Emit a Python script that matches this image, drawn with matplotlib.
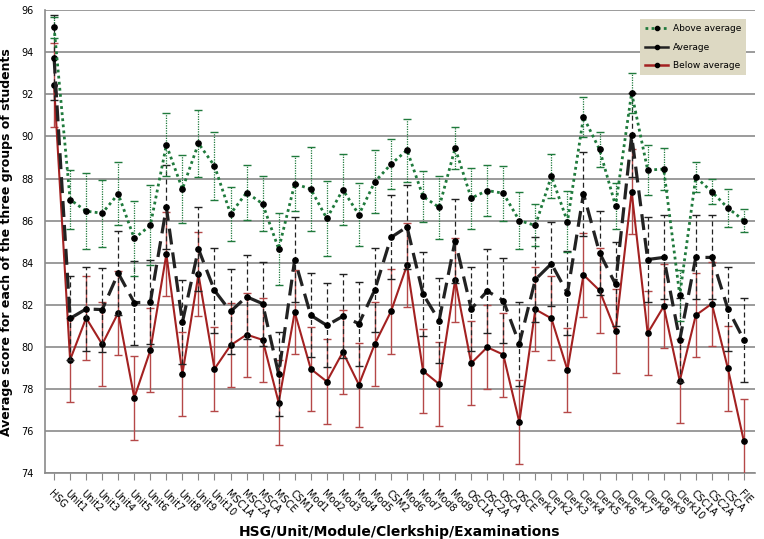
import matplotlib
matplotlib.use("Agg")
import matplotlib.pyplot as plt
from matplotlib.lines import Line2D
import numpy as np

categories = ["HSG", "Unit1", "Unit2", "Unit3", "Unit4", "Unit5", "Unit6", "Unit7", "Unit8", "Unit9",
              "Unit10", "MSC1A", "MSC2A", "MSCA", "MSCE", "CSM1", "Mod1", "Mod2", "Mod3", "Mod4",
              "Mod5", "CSM2", "Mod6", "Mod7", "Mod8", "Mod9", "OSC1A", "OSC2A", "OSCA", "OSCE",
              "Clerk1", "Clerk2", "Clerk3", "Clerk4", "Clerk5", "Clerk6", "Clerk7", "Clerk8", "Clerk9",
              "Clerk10", "CSC1A", "CSC2A", "CSCA", "FIE"]

above = [95.2, 87.0, 86.45, 86.35, 87.27, 85.15, 85.77, 89.6, 87.5, 89.67,
         88.6, 86.32, 87.33, 86.8, 84.65, 87.75, 87.5, 86.1, 87.47, 86.28,
         87.85, 88.68, 89.35, 87.15, 86.63, 89.45, 87.07, 87.43, 87.3, 86.0,
         85.77, 88.12, 85.95, 90.93, 89.38, 86.7, 92.08, 88.4, 88.45, 82.45,
         88.07, 87.37, 86.6, 86.0]
above_err = [0.5, 1.4, 1.8, 1.6, 1.5, 1.8, 1.9, 1.5, 1.6, 1.6,
             1.6, 1.3, 1.3, 1.3, 1.7, 1.3, 2.0, 1.8, 1.7, 1.5,
             1.5, 1.2, 1.5, 1.2, 1.5, 1.0, 1.45, 1.2, 1.3, 1.35,
             1.0, 1.05, 1.45, 0.95, 0.85, 1.1, 0.95, 1.2, 1.0, 1.2,
             0.7, 0.6, 0.9, 0.55]

average = [93.75, 81.35, 81.8, 81.77, 83.5, 82.1, 82.12, 86.63, 81.17, 84.65,
           82.68, 81.68, 82.38, 82.05, 78.7, 84.15, 81.5, 81.02, 81.45, 81.1,
           82.72, 85.2, 85.7, 82.5, 81.25, 85.05, 81.8, 82.65, 82.2, 80.15,
           83.2, 83.95, 82.55, 87.28, 84.47, 82.97, 90.05, 84.15, 84.25, 80.33,
           84.25, 84.25, 81.8, 80.33]
average_err = [2.0] * len(categories)

below = [92.43, 79.38, 81.37, 80.12, 81.62, 77.58, 79.83, 84.4, 78.72, 83.45,
         78.95, 80.07, 80.58, 80.33, 77.35, 81.65, 78.95, 78.35, 79.75, 78.2,
         80.15, 81.68, 83.88, 78.85, 78.23, 83.18, 79.22, 79.98, 79.63, 76.42,
         81.78, 81.35, 78.9, 83.42, 82.68, 80.75, 87.38, 80.65, 81.92, 78.38,
         81.5, 82.05, 78.97, 75.5]
below_err = [2.0] * len(categories)

x = np.arange(len(categories))

fig = plt.figure(figsize=(7.64, 5.39), dpi=100)
ax = fig.add_axes([0.059, 0.1224, 0.929, 0.8586])

green = "#1f7a3c"
red = "#a32121"
red_err = "#b54848"
ms = 3.8

# Below average (red)
ax.errorbar(x, below, yerr=below_err, color=red, lw=1.5, ecolor=red_err,
            elinewidth=1.0, capsize=3, capthick=1.0, marker="o", ms=ms,
            mfc="black", mec="black", zorder=3)
# Average (black dashed)
eb2 = ax.errorbar(x, average, yerr=average_err, color="#222222", lw=2.3, ls=(0, (5, 2.5)),
                  ecolor="#222222", elinewidth=0.9, capsize=3, capthick=1.0,
                  marker="o", ms=ms, mfc="black", mec="black", zorder=4)
eb2[2][0].set_linestyle((0, (4, 2.5)))
# Above average (green dotted)
eb3 = ax.errorbar(x, above, yerr=above_err, color=green, lw=2.0, ls=(0, (1, 1.2)),
                  ecolor=green, elinewidth=0.9, capsize=3, capthick=1.0,
                  marker="o", ms=ms, mfc="black", mec="black", zorder=5)
eb3[2][0].set_linestyle((0, (1, 1)))

ax.set_xlim(-0.56, 43.68)
ax.set_ylim(74, 96)
ax.set_yticks(np.arange(74, 97, 2))
ax.tick_params(axis="y", labelsize=7, length=0, pad=8)
ax.set_xticks(x)
ax.set_xticklabels(categories, rotation=-45, ha="left", va="top",
                   rotation_mode="anchor", fontsize=7)
ax.tick_params(axis="x", length=5, color="#888888", pad=6)

ax.grid(axis="y", color="#8a8a8a", lw=1.2)
ax.set_axisbelow(True)
for s in ["top", "right"]:
    ax.spines[s].set_visible(False)
for s in ["left", "bottom"]:
    ax.spines[s].set_color("#8a8a8a")
    ax.spines[s].set_linewidth(1.2)

ax.set_ylabel("Average score for each of the three groups of students",
              fontsize=9, fontweight="bold", labelpad=6)
ax.set_xlabel("HSG/Unit/Module/Clerkship/Examinations", fontsize=10, fontweight="bold",
              labelpad=2)

handles = [
    Line2D([], [], color=green, lw=2.0, ls=(0, (1, 1.2)), marker="o", ms=3, mfc="black", mec="black"),
    Line2D([], [], color="#222222", lw=1.8, marker="o", ms=3, mfc="black", mec="black"),
    Line2D([], [], color=red, lw=1.8, marker="o", ms=3, mfc="black", mec="black"),
]
leg = ax.legend(handles, ["Above average", "Average", "Below average"], loc="upper right",
                bbox_to_anchor=(0.988, 0.98), fontsize=6.5, frameon=True, fancybox=False,
                handlelength=2.6, handletextpad=0.5, labelspacing=1.05, borderpad=0.55,
                borderaxespad=0.0)
leg.get_frame().set_facecolor("#ddd9c3")
leg.get_frame().set_edgecolor("#ddd9c3")
leg.get_frame().set_alpha(1.0)
leg.get_frame().set_linewidth(0)

fig.savefig("out.png", dpi=100)
